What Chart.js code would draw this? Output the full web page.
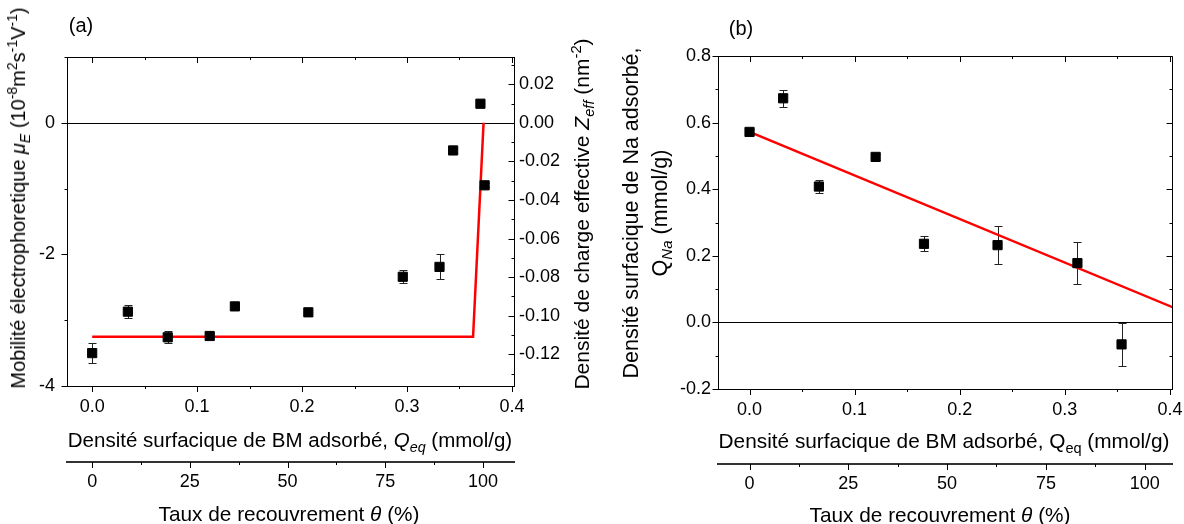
<!DOCTYPE html>
<html>
<head>
<meta charset="utf-8">
<script src="https://cdn.jsdelivr.net/npm/chart.js@4.4.0/dist/chart.umd.min.js"></script>
<style>
  body { margin: 0; background: #fff; }
  #wrap { position: relative; width: 1184px; height: 524px; overflow: hidden;
          font-family: 'Liberation Sans', Arial, sans-serif; color: #000; }
  canvas { position: absolute; top: 0; }
  .lbl { position: absolute; white-space: nowrap; font-size: 20px; line-height: 1;
         transform: translate(-50%, -50%); }
  .rot { transform: translate(-50%, -50%) rotate(-90deg); }
  .two { text-align: center; line-height: 29px; }
  sub, sup { font-size: 0.7em; line-height: 0; }
</style>
</head>
<body>
<div id="wrap">
  <canvas id="chartA" width="600" height="524" style="left:0"></canvas>
  <canvas id="chartB" width="584" height="524" style="left:600px"></canvas>

  <div class="lbl" style="left:81px;top:25px">(a)</div>
  <div class="lbl" style="left:741px;top:28px">(b)</div>

  <div class="lbl rot" style="left:18px;top:198px">Mobilité électrophoretique <i>μ<sub>E</sub></i> (10<sup>-8</sup>m<sup>2</sup>s<sup>-1</sup>V<sup>-1</sup>)</div>
  <div class="lbl rot" style="left:581px;top:214px;font-size:21px">Densité de charge effective <i>Z<sub>eff</sub></i> (nm<sup>-2</sup>)</div>
  <div class="lbl rot two" style="left:646px;top:213px;font-size:21.5px">Densité surfacique de Na adsorbé,<br>Q<sub><i>Na</i></sub> (mmol/g)</div>

  <div class="lbl" style="left:290px;top:440px;font-size:20.5px">Densité surfacique de BM adsorbé, <i>Q<sub>eq</sub></i> (mmol/g)</div>
  <div class="lbl" style="left:944px;top:441px;font-size:20.8px">Densité surfacique de BM adsorbé, Q<sub>eq</sub> (mmol/g)</div>
  <div class="lbl" style="left:289px;top:514px;font-size:20.8px">Taux de recouvrement <i>θ</i> (%)</div>
  <div class="lbl" style="left:940px;top:515px;font-size:20.8px">Taux de recouvrement <i>θ</i> (%)</div>
</div>

<script>
// (a) electrophoretic mobility vs adsorbed BM
const qA = [0.000, 0.034, 0.072, 0.112, 0.136, 0.206, 0.296, 0.331, 0.344, 0.370, 0.374];
const muA = [-3.50, -2.87, -3.26, -3.24, -2.79, -2.88, -2.34, -2.19, -0.42, 0.29, -0.95];
const muErrA = [0.15, 0.10, 0.09, 0.05, 0.03, 0.06, 0.10, 0.19, 0.03, 0.03, 0.03];
const fitQA = [0.000, 0.363, 0.373];
const fitMuA = [-3.25, -3.25, 0.00];

// (b) adsorbed Na vs adsorbed BM
const qB = [0.000, 0.032, 0.066, 0.120, 0.166, 0.236, 0.312, 0.354];
const naB = [0.572, 0.673, 0.408, 0.497, 0.236, 0.232, 0.178, -0.066];
const naErrB = [0.01, 0.025, 0.02, 0.01, 0.022, 0.056, 0.063, 0.064];
const fitQB = [0.000, 0.403];
const fitNaB = [0.572, 0.045];

// axis ranges / ticks
const xRangeA = [-0.024, 0.402];
const xRangeB = [-0.030, 0.402];
const muRange = [-4, 1];
const zPerMu = 0.0341;         // Zeff axis = mu axis * 0.0341
const naRange = [-0.2, 0.8];
const qFullA = 0.3724;         // Q at 100 % coverage
const qFullB = 0.376;

Chart.defaults.font.family = "'Liberation Sans', Arial, sans-serif";
Chart.defaults.font.size = 18;
Chart.defaults.color = '#000';

const isMult = (v, m) => Math.abs(v / m - Math.round(v / m)) < 1e-6;
const al = v => Math.round(v) + 0.5;

// zero line, error bars, mirror frame and tick marks
const axisMarks = {
  id: 'axisMarks',
  beforeDatasetsDraw(chart, args, opts) {
    const {ctx, chartArea: a} = chart;
    const xs = chart.scales.x, ys = chart.scales.y;
    ctx.save();
    ctx.strokeStyle = '#000';
    ctx.lineWidth = 1;
    const y0 = al(ys.getPixelForValue(0));
    ctx.beginPath(); ctx.moveTo(a.left, y0); ctx.lineTo(a.right, y0); ctx.stroke();
    ctx.strokeStyle = '#222';
    const pts = chart.data.datasets[0].data;
    opts.err.forEach((e, i) => {
      const px = al(xs.getPixelForValue(pts[i].x));
      const t = al(ys.getPixelForValue(pts[i].y + e));
      const b = al(ys.getPixelForValue(pts[i].y - e));
      ctx.beginPath();
      ctx.moveTo(px, t); ctx.lineTo(px, b);
      ctx.moveTo(px - 4, t); ctx.lineTo(px + 4, t);
      ctx.moveTo(px - 4, b); ctx.lineTo(px + 4, b);
      ctx.stroke();
    });
    ctx.restore();
  },
  afterDraw(chart, args, opts) {
    const {ctx, chartArea: a} = chart;
    ctx.save();
    ctx.strokeStyle = '#000';
    ctx.lineWidth = 1;
    ctx.beginPath();
    ctx.moveTo(al(a.left), al(a.top)); ctx.lineTo(al(a.right), al(a.top)); ctx.lineTo(al(a.right), al(a.bottom));
    ctx.stroke();
    opts.marks.forEach(m => {
      const s = chart.scales[m.scale];
      s.ticks.forEach(t => {
        const p = al(s.getPixelForValue(t.value));
        const len = t.label === '' ? 3 : 6;
        ctx.beginPath();
        if (s.isHorizontal()) {
          const y = m.edge === 'top' ? a.top : s.top;
          ctx.moveTo(p, y); ctx.lineTo(p, y + len);
        } else {
          const x = al(m.edge === 'left' ? a.left : a.right);
          ctx.moveTo(x, p); ctx.lineTo(x - len, p);
        }
        ctx.stroke();
      });
    });
    ctx.restore();
  }
};

function linAxis(position, range, step, major, digits, pad, size, extra) {
  return Object.assign({
    type: 'linear', position: position, min: range[0], max: range[1],
    grid: {display: false, drawTicks: false},
    border: {display: true, color: '#000', width: 1},
    ticks: {
      stepSize: step, includeBounds: false, autoSkip: false, maxTicksLimit: 200, padding: pad,
      maxRotation: 0, minRotation: 0,
      callback: v => isMult(v, major) ? v.toFixed(digits) : ''
    },
    afterFit: s => {
      if (s.isHorizontal()) s.height = size; else s.width = size;
      s.paddingLeft = s.paddingRight = s.paddingTop = s.paddingBottom = 0;
    }
  }, extra || {});
}

function scatterSet(q, v) {
  return {
    data: q.map((x, i) => ({x: x, y: v[i]})),
    pointStyle: 'rect', pointRadius: 6.5, pointHoverRadius: 6.5,
    backgroundColor: '#000', borderColor: '#000', borderWidth: 1
  };
}

function fitSet(q, v) {
  return {
    data: q.map((x, i) => ({x: x, y: v[i]})),
    showLine: true, borderColor: 'rgb(255,0,0)', borderWidth: 2.5,
    pointRadius: 0, fill: false, tension: 0
  };
}

new Chart(document.getElementById('chartA'), {
  type: 'scatter',
  data: {datasets: [scatterSet(qA, muA), fitSet(fitQA, fitMuA)]},
  options: {
    responsive: false, animation: false,
    layout: {padding: {top: 57, left: 0, right: 0, bottom: 0}},
    plugins: {
      legend: {display: false}, tooltip: {enabled: false},
      axisMarks: {
        err: muErrA,
        marks: [{scale: 'x', edge: 'bottom'}, {scale: 'x', edge: 'top'}, {scale: 'x2', edge: 'bottom'},
                {scale: 'y', edge: 'left'}, {scale: 'y2', edge: 'right'}]
      }
    },
    scales: {
      x: linAxis('bottom', xRangeA, 0.05, 0.1, 1, 10, 76, {weight: 0}),
      x2: linAxis('bottom', [xRangeA[0] / qFullA * 100, xRangeA[1] / qFullA * 100], 12.5, 25, 0, 9, 62,
                  {weight: 1, border: {display: true, color: '#333', width: 2}}),
      y: linAxis('left', muRange, 1, 2, 0, 12, 67),
      y2: linAxis('right', [muRange[0] * zPerMu, muRange[1] * zPerMu], 0.01, 0.02, 2, 5, 86)
    }
  },
  plugins: [axisMarks]
});

new Chart(document.getElementById('chartB'), {
  type: 'scatter',
  data: {datasets: [scatterSet(qB, naB), fitSet(fitQB, fitNaB)]},
  options: {
    responsive: false, animation: false,
    layout: {padding: {top: 56, left: 0, right: 12, bottom: 0}},
    plugins: {
      legend: {display: false}, tooltip: {enabled: false},
      axisMarks: {
        err: naErrB,
        marks: [{scale: 'x', edge: 'bottom'}, {scale: 'x', edge: 'top'}, {scale: 'x2', edge: 'bottom'},
                {scale: 'y', edge: 'left'}, {scale: 'y', edge: 'right'}]
      }
    },
    scales: {
      x: linAxis('bottom', xRangeB, 0.05, 0.1, 1, 10, 75, {weight: 0}),
      x2: linAxis('bottom', [xRangeB[0] / qFullB * 100, xRangeB[1] / qFullB * 100], 12.5, 25, 0, 9, 60,
                  {weight: 1, border: {display: true, color: '#333', width: 2}}),
      y: linAxis('left', naRange, 0.1, 0.2, 1, 7, 118)
    }
  },
  plugins: [axisMarks]
});
</script>
</body>
</html>
